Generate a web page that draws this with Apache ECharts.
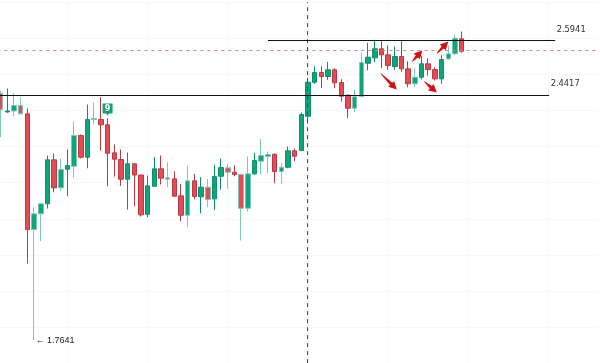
<!DOCTYPE html>
<html><head><meta charset="utf-8">
<style>html,body{margin:0;padding:0;background:#fff}#c{width:600px;height:363px}</style>
<script src="https://cdn.jsdelivr.net/npm/echarts@6/dist/echarts.min.js"></script>
</head><body><div id="c"></div>
<script>
const opens = [2.4480,2.3961,2.3989,2.4139,2.3909,2.0703,2.1138,2.1416,2.2635,2.1859,2.2374,2.2457,2.3308,2.2707,2.3752,2.3752,2.3605,2.2829,2.2643,2.2097,2.2524,2.2214,2.1127,2.1903,2.2385,2.2136,2.2108,2.1637,2.1100,2.2053,2.1610,2.1876,2.1554,2.2180,2.2413,2.2291,2.2227,2.1294,2.2247,2.2596,2.2726,2.2790,2.2311,2.2430,2.2884,2.2892,2.3843,2.4785,2.5054,2.4943,2.5129,2.4777,2.4425,2.4065,2.4389,2.5312,2.5461,2.5710,2.5544,2.5220,2.5497,2.5156,2.4741,2.4924,2.5295,2.5137,2.4879,2.5433,2.5572,2.5988];
const closes = [2.4020,2.3989,2.4139,2.3909,2.0703,2.1138,2.1416,2.2635,2.1859,2.2366,2.2477,2.3308,2.2707,2.3752,2.3779,2.3605,2.2818,2.2651,2.2097,2.2524,2.2214,2.1111,2.1914,2.2385,2.2125,2.2097,2.1626,2.1100,2.2053,2.1618,2.1876,2.1535,2.2172,2.2421,2.2291,2.2227,2.1294,2.2247,2.2615,2.2754,2.2782,2.2311,2.2430,2.2884,2.2735,2.3890,2.4785,2.5054,2.4943,2.5129,2.4768,2.4397,2.4065,2.4381,2.5331,2.5478,2.5710,2.5544,2.5248,2.5497,2.5156,2.4741,2.4924,2.5295,2.5137,2.4879,2.5414,2.5572,2.6004,2.5644];
const lows = [2.3261,2.3942,2.3843,2.3909,1.9761,1.7641,2.0379,2.1285,2.1737,2.1765,2.1626,2.2144,2.2671,2.2402,2.3613,2.2892,2.1903,2.2172,2.1914,2.1258,2.1349,2.1064,2.1044,2.1895,2.1950,2.1876,2.1618,2.0933,2.0767,2.1543,2.1155,2.1321,2.1249,2.1803,2.1831,2.2180,2.0399,2.1202,2.2219,2.2227,2.2263,2.1986,2.1970,2.2402,2.2596,2.2879,2.3641,2.4741,2.4630,2.4852,2.4619,2.4250,2.3788,2.3961,2.4370,2.5109,2.5339,2.5173,2.5129,2.5129,2.5062,2.4647,2.4647,2.4860,2.4971,2.4832,2.4741,2.5406,2.5544,2.5600];
const highs = [2.4555,2.4611,2.4480,2.4369,2.4056,2.1321,2.1424,2.2754,2.2809,2.2671,2.2920,2.3696,2.3336,2.4167,2.4223,2.4369,2.3788,2.3059,2.2920,2.2837,2.2541,2.2227,2.2200,2.2707,2.2754,2.2568,2.2319,2.1970,2.2477,2.2247,2.2153,2.2108,2.2496,2.2671,2.2524,2.2477,2.2247,2.2726,2.2829,2.3217,2.2865,2.2809,2.2541,2.3003,2.2948,2.3945,2.4915,2.5228,2.5228,2.5350,2.5173,2.4868,2.4444,2.4574,2.5600,2.5877,2.5960,2.5921,2.5802,2.5774,2.5921,2.5367,2.5165,2.5525,2.5450,2.5201,2.5544,2.5802,2.6107,2.6190];
const softWicks = [0,2,3,5,6,9,11,14,25,28,31,34,36,37,39,40,42,53,54,62,67,68];
const categoryCount = 90;
const categories = Array.from({length: categoryCount}, (_, i) => String(i));
const resistance = [[40, 2.5941], [83, 2.5941]];
const support = [[-0.5, 2.4417], [82.1, 2.4417]];
const priceLine = [[-0.5, 2.5664], [89.5, 2.5664]];
const crosshair = [[45.93, 1.7], [45.93, 2.7]];
const arrows = [[56.9,2.5026,59.3,2.4583],[61.6,2.5359,63.1,2.5664],[63.4,2.4804,65.3,2.4500],[65.3,2.5580,67,2.5913]];
const lowLabel = '← 1.7641';
const GREEN='#0fa57c', GREEN_B='#0c8f6b', RED='#e34b55', RED_B='#b93a45';
const candles = opens.map((o,i)=>{
  const item={value:[o,closes[i],lows[i],highs[i]]};
  if(softWicks.includes(i)) item.itemStyle={borderColor:'#7cc8b3',borderColor0:'#e59aa1'};
  return item;
});
const chart = echarts.init(document.getElementById('c'), null, {renderer:'canvas'});
const levelLabel = {show:true,position:'right',distance:1,fontFamily:'DejaVu Sans',fontSize:8.3,color:'#333'};
const hiddenDot = {symbol:'circle',symbolSize:1,itemStyle:{color:'rgba(0,0,0,0)'}};
chart.setOption({
  animation:false,
  backgroundColor:'#fff',
  grid:{left:-2.64,width:601.2,top:2.3,height:360.9,containLabel:false,outerBoundsMode:'none'},
  xAxis:[
    {type:'category',data:categories,boundaryGap:true,
     axisLine:{show:false},axisTick:{show:false},axisLabel:{show:false},
     splitLine:{show:true,alignWithLabel:true,interval:(i)=>i%12===10,lineStyle:{color:'#f7f7f7',width:1}}},
    {type:'value',min:-0.5,max:89.5,show:false,splitLine:{show:false}}
  ],
  yAxis:{type:'value',min:1.7,max:2.7,interval:0.1,
    axisLine:{show:false},axisTick:{show:false},axisLabel:{show:false},
    splitLine:{show:true,lineStyle:{color:'#f7f7f7',width:1}}},
  series:[
    {type:'candlestick',data:candles,barWidth:5,xAxisIndex:0,
     itemStyle:{color:GREEN,color0:RED,borderColor:GREEN_B,borderColor0:RED_B,borderWidth:1},
     markPoint:{silent:true,data:[
       {coord:[16,2.4029],symbol:'path://M0 0H10V10H6.5L5 12L3.5 10H0Z',symbolSize:[10,12],
        itemStyle:{color:'#12a07e'},label:{show:true,formatter:'9',color:'#fff',fontSize:8,fontFamily:'DejaVu Sans',fontWeight:'bold',position:'inside',offset:[0,-1]}},
       {coord:[5,1.7641],...hiddenDot,
        label:{show:true,formatter:lowLabel,position:'right',distance:1,color:'#222',fontSize:9,fontFamily:'Liberation Sans'}}
     ]}},
    {type:'line',xAxisIndex:1,data:priceLine,symbol:'none',lineStyle:{color:'#dc8088',width:1,type:[3,4]},z:3},
    {type:'line',xAxisIndex:1,data:crosshair,symbol:'none',lineStyle:{color:'#444',width:1,type:[4,4]},z:3},
    {type:'line',xAxisIndex:1,data:resistance,symbol:'none',lineStyle:{color:'#111',width:1},z:4,
     markPoint:{silent:true,data:[{coord:resistance[1],...hiddenDot,label:{...levelLabel,formatter:'2.5941',offset:[0,-11]}}]}},
    {type:'line',xAxisIndex:1,data:support,symbol:'none',lineStyle:{color:'#111',width:1},z:4,
     markPoint:{silent:true,data:[{coord:support[1],...hiddenDot,label:{...levelLabel,formatter:'2.4417',offset:[0,-12]}}]}},
    {type:'custom',xAxisIndex:1,data:arrows,encode:{x:0,y:1},z:5,silent:true,clip:false,
     renderItem(params,api){
       const a=api.coord([api.value(0),api.value(1)]), b=api.coord([api.value(2),api.value(3)]);
       const dx=b[0]-a[0], dy=b[1]-a[1], L=Math.hypot(dx,dy), ux=dx/L, uy=dy/L, nx=-uy, ny=ux;
       const neck=[b[0]-ux*8,b[1]-uy*8];
       const pts=[[a[0]+nx*.3,a[1]+ny*.3],[neck[0]+nx*1.6,neck[1]+ny*1.6],[neck[0]+nx*4.2,neck[1]+ny*4.2],b,
                  [neck[0]-nx*4.2,neck[1]-ny*4.2],[neck[0]-nx*1.6,neck[1]-ny*1.6],[a[0]-nx*.3,a[1]-ny*.3]];
       return {type:'polygon',shape:{points:pts},style:{fill:'#cf1414'}};
     }}
  ]
});
</script></body></html>
